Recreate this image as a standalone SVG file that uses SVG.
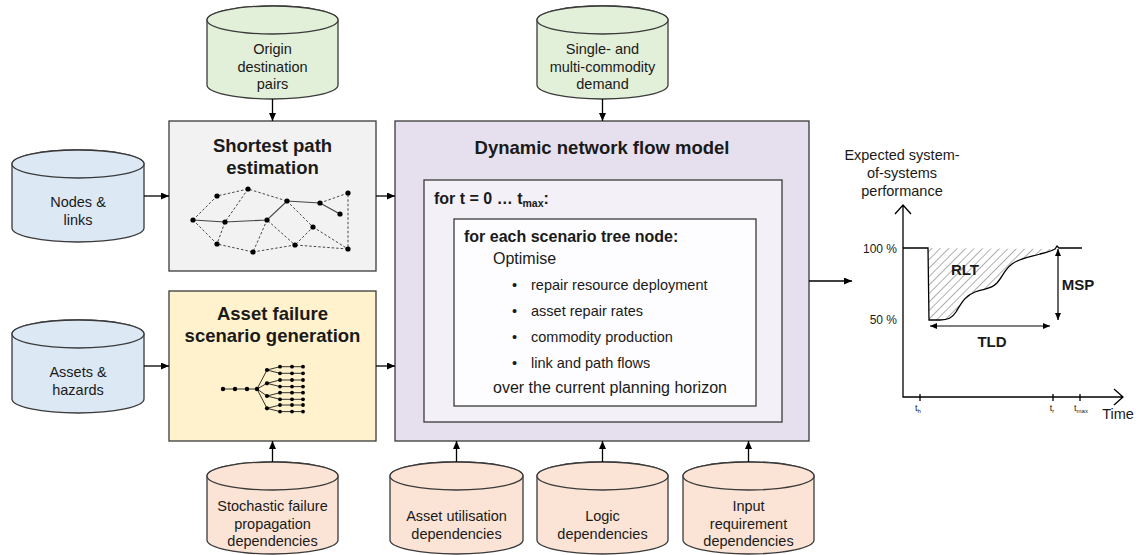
<svg xmlns="http://www.w3.org/2000/svg" width="1142" height="555" viewBox="0 0 1142 555">
<style>
text{font-family:"Liberation Sans",Arial,sans-serif;fill:#1a1a1a}
.cyl{stroke:#3a3a3a;stroke-width:1.3}
.green{fill:#e2efd9}
.blue{fill:#dde8f5}
.peach{fill:#fbe4d5}
.ct{font-size:14.5px;text-anchor:middle}
.title{font-size:18.5px;font-weight:bold;text-anchor:middle}
.box{stroke:#3a3a3a;stroke-width:1.3}
.conn{stroke:#000;stroke-width:1.3;fill:none;marker-end:url(#ah)}
.dash{stroke:#333;stroke-width:0.9;stroke-dasharray:2.5 2;fill:none}
.sol{stroke:#444;stroke-width:1.2;fill:none}
.nd{fill:#000}
.tr{stroke:#000;stroke-width:0.8;fill:none}
.ax{stroke:#000;stroke-width:1.3;fill:none}
.lbl{font-size:12px}
.blt{font-size:14.5px}
</style>
<defs>
<marker id="ah" markerWidth="8" markerHeight="7" refX="8" refY="3.5" orient="auto-start-reverse" markerUnits="userSpaceOnUse"><path d="M0,0 L8,3.5 L0,7 z" fill="#000"/></marker>
<marker id="sh" markerWidth="7" markerHeight="6" refX="7" refY="3" orient="auto-start-reverse" markerUnits="userSpaceOnUse"><path d="M0,0 L7,3 L0,6 z" fill="#000"/></marker>
<pattern id="hatch" width="6" height="6" patternUnits="userSpaceOnUse" patternTransform="rotate(45)"><line x1="0" y1="0" x2="0" y2="6" stroke="#a6a6a6" stroke-width="1.8"/></pattern>
</defs>

<g id="origin-destination">
<path class="cyl green" d="M207,20 A65.5,14 0 0,1 338,20 V85 A65.5,14 0 0,1 207,85 Z"/>
<ellipse class="cyl green" cx="272.5" cy="20" rx="65.5" ry="14"/>
<text class="ct" x="272.5" y="54">Origin</text>
<text class="ct" x="272.5" y="71.5">destination</text>
<text class="ct" x="272.5" y="89">pairs</text>
</g>

<g id="commodity-demand">
<path class="cyl green" d="M537,20 A65.5,14 0 0,1 668,20 V85 A65.5,14 0 0,1 537,85 Z"/>
<ellipse class="cyl green" cx="602.5" cy="20" rx="65.5" ry="14"/>
<text class="ct" x="602.5" y="54">Single- and</text>
<text class="ct" x="602.5" y="71.5">multi-commodity</text>
<text class="ct" x="602.5" y="89">demand</text>
</g>

<g id="nodes-links">
<path class="cyl blue" d="M12,164 A66,14 0 0,1 144,164 V228 A66,14 0 0,1 12,228 Z"/>
<ellipse class="cyl blue" cx="78" cy="164" rx="66" ry="14"/>
<text class="ct" x="78" y="207">Nodes &amp;</text>
<text class="ct" x="78" y="224.5">links</text>
</g>

<g id="assets-hazards">
<path class="cyl blue" d="M12,334 A66,14 0 0,1 144,334 V399 A66,14 0 0,1 12,399 Z"/>
<ellipse class="cyl blue" cx="78" cy="334" rx="66" ry="14"/>
<text class="ct" x="78" y="377">Assets &amp;</text>
<text class="ct" x="78" y="394.5">hazards</text>
</g>

<g id="stochastic-failure">
<path class="cyl peach" d="M207,476 A65.5,14 0 0,1 338,476 V540 A65.5,14 0 0,1 207,540 Z"/>
<ellipse class="cyl peach" cx="272.5" cy="476" rx="65.5" ry="14"/>
<text class="ct" x="272.5" y="511">Stochastic failure</text>
<text class="ct" x="272.5" y="528.5">propagation</text>
<text class="ct" x="272.5" y="546">dependencies</text>
</g>

<g id="asset-utilisation">
<path class="cyl peach" d="M390,476 A66.5,14 0 0,1 523,476 V540 A66.5,14 0 0,1 390,540 Z"/>
<ellipse class="cyl peach" cx="456.5" cy="476" rx="66.5" ry="14"/>
<text class="ct" x="456.5" y="521">Asset utilisation</text>
<text class="ct" x="456.5" y="538.5">dependencies</text>
</g>

<g id="logic">
<path class="cyl peach" d="M537,476 A65.5,14 0 0,1 668,476 V540 A65.5,14 0 0,1 537,540 Z"/>
<ellipse class="cyl peach" cx="602.5" cy="476" rx="65.5" ry="14"/>
<text class="ct" x="602.5" y="521">Logic</text>
<text class="ct" x="602.5" y="538.5">dependencies</text>
</g>

<g id="input-requirement">
<path class="cyl peach" d="M683,476 A65.5,14 0 0,1 814,476 V540 A65.5,14 0 0,1 683,540 Z"/>
<ellipse class="cyl peach" cx="748.5" cy="476" rx="65.5" ry="14"/>
<text class="ct" x="748.5" y="511">Input</text>
<text class="ct" x="748.5" y="528.5">requirement</text>
<text class="ct" x="748.5" y="546">dependencies</text>
</g>

<g id="shortest-path">
<rect class="box" x="169" y="121" width="207" height="150" fill="#f2f2f2"/>
<text class="title" x="272.5" y="152">Shortest path</text>
<text class="title" x="272.5" y="174">estimation</text>
<g>
<path class="dash" d="M193,220 L217,196 L248,189 L287,201 M248,189 L225,222 L217,244 M193,220 L217,244 L253,252 L267,220 M253,252 L295,245 L267,220 M287,201 L313,227 L295,245 L348,249 M313,227 L348,249 M320,203 L348,193 L348,249"/>
<path class="sol" d="M193,220 L225,222 L267,220 L287,201 L320,203 L340,214"/>
<g class="nd">
<circle cx="193" cy="220" r="2.6"/><circle cx="217" cy="196" r="2.6"/><circle cx="248" cy="189" r="2.6"/><circle cx="287" cy="201" r="2.6"/><circle cx="320" cy="203" r="2.6"/><circle cx="348" cy="193" r="2.6"/><circle cx="340" cy="214" r="2.6"/><circle cx="225" cy="222" r="2.6"/><circle cx="267" cy="220" r="2.6"/><circle cx="313" cy="227" r="2.6"/><circle cx="217" cy="244" r="2.6"/><circle cx="253" cy="252" r="2.6"/><circle cx="295" cy="245" r="2.6"/><circle cx="348" cy="249" r="2.6"/>
</g>
</g>
</g>

<g id="asset-failure">
<rect class="box" x="169" y="291" width="207" height="150" fill="#fff2cc"/>
<text class="title" x="272.5" y="320">Asset failure</text>
<text class="title" x="272.5" y="342">scenario generation</text>
<g>
<path class="tr" d="M223,389 H257 M257,389 L267,370 M257,389 L267,383.3 M257,389 L267,396 M257,389 L267,408.3
M267,370 L280,366.7 M267,370 L280,373.3 M267,383.3 L280,380 M267,383.3 L280,386.6 M267,396 L280,392.7 M267,396 L280,399.3 M267,408.3 L280,405 M267,408.3 L280,411.6
M280,366.7 H303 M280,373.3 H303 M280,380 H303 M280,386.6 H303 M280,392.7 H303 M280,399.3 H303 M280,405 H303 M280,411.6 H303"/>
<g class="nd">
<circle cx="223" cy="389" r="2.2"/><circle cx="235" cy="389" r="2.2"/><circle cx="247" cy="389" r="2.2"/><circle cx="257" cy="389" r="2.2"/>
<circle cx="267" cy="370" r="2.1"/><circle cx="267" cy="383.3" r="2.1"/><circle cx="267" cy="396" r="2.1"/><circle cx="267" cy="408.3" r="2.1"/>
<circle cx="280" cy="366.7" r="1.9"/><circle cx="292" cy="366.7" r="1.9"/><circle cx="303" cy="366.7" r="1.9"/>
<circle cx="280" cy="373.3" r="1.9"/><circle cx="292" cy="373.3" r="1.9"/><circle cx="303" cy="373.3" r="1.9"/>
<circle cx="280" cy="380" r="1.9"/><circle cx="292" cy="380" r="1.9"/><circle cx="303" cy="380" r="1.9"/>
<circle cx="280" cy="386.6" r="1.9"/><circle cx="292" cy="386.6" r="1.9"/><circle cx="303" cy="386.6" r="1.9"/>
<circle cx="280" cy="392.7" r="1.9"/><circle cx="292" cy="392.7" r="1.9"/><circle cx="303" cy="392.7" r="1.9"/>
<circle cx="280" cy="399.3" r="1.9"/><circle cx="292" cy="399.3" r="1.9"/><circle cx="303" cy="399.3" r="1.9"/>
<circle cx="280" cy="405" r="1.9"/><circle cx="292" cy="405" r="1.9"/><circle cx="303" cy="405" r="1.9"/>
<circle cx="280" cy="411.6" r="1.9"/><circle cx="292" cy="411.6" r="1.9"/><circle cx="303" cy="411.6" r="1.9"/>
</g>
</g>
</g>

<g id="dynamic-network-flow-model">
<rect class="box" x="395" y="121" width="414" height="320" fill="#e6e0ee"/>
<text class="title" x="602" y="154">Dynamic network flow model</text>
<rect class="box" x="424" y="180" width="358" height="242" fill="#f3f0f7"/>
<text x="434" y="204" font-size="16" font-weight="bold">for t = 0 … t<tspan font-size="10.5" dy="3">max</tspan><tspan dy="-3">:</tspan></text>
<rect class="box" x="454" y="219" width="302" height="187" fill="#fdfcfe"/>
<text x="464" y="242" font-size="16" font-weight="bold">for each scenario tree node:</text>
<text x="493" y="264" font-size="16">Optimise</text>
<text class="blt" x="512" y="290">•</text><text class="blt" x="531" y="290">repair resource deployment</text>
<text class="blt" x="512" y="316">•</text><text class="blt" x="531" y="316">asset repair rates</text>
<text class="blt" x="512" y="342">•</text><text class="blt" x="531" y="342">commodity production</text>
<text class="blt" x="512" y="368">•</text><text class="blt" x="531" y="368">link and path flows</text>
<text x="493" y="393" font-size="16">over the current planning horizon</text>
</g>

<g id="connectors">
<line class="conn" x1="272.5" y1="99" x2="272.5" y2="121"/>
<line class="conn" x1="602.5" y1="99" x2="602.5" y2="121"/>
<line class="conn" x1="144" y1="196" x2="169" y2="196"/>
<line class="conn" x1="144" y1="366" x2="169" y2="366"/>
<line class="conn" x1="376" y1="196" x2="395" y2="196"/>
<line class="conn" x1="376" y1="366" x2="395" y2="366"/>
<line class="conn" x1="272.5" y1="462" x2="272.5" y2="441"/>
<line class="conn" x1="456.5" y1="462" x2="456.5" y2="441"/>
<line class="conn" x1="602.5" y1="462" x2="602.5" y2="441"/>
<line class="conn" x1="748.5" y1="462" x2="748.5" y2="441"/>
<line class="conn" x1="809" y1="281" x2="852" y2="281"/>
</g>

<g id="performance-chart">
<text class="ct" x="902" y="160">Expected system-</text>
<text class="ct" x="902" y="178">of-systems</text>
<text class="ct" x="902" y="196">performance</text>
<path class="ax" d="M903,205 V397 H1123 M895,214 L903,205 L911,214 M1114,389 L1123,397 L1114,405"/>
<path class="ax" d="M920,394 V401 M1053,394 V401 M1080,394 V401"/>
<text class="lbl" x="897" y="253" text-anchor="end">100 %</text>
<text class="lbl" x="897" y="324" text-anchor="end">50 %</text>
<path d="M928,248 L929,320 H940 C948,320 952,318 956,312 C962,302 965,296 975,292 C985,288 990,290 997,283 C1003,276 1004,270 1012,264 C1020,258 1030,257 1040,254 C1048,252 1052,251 1055,249 Z" fill="url(#hatch)"/>
<path class="ax" d="M903,248 H928 L929,320 H940 C948,320 952,318 956,312 C962,302 965,296 975,292 C985,288 990,290 997,283 C1003,276 1004,270 1012,264 C1020,258 1030,257 1040,254 C1048,252 1052,251 1055,249 L1057,246 L1059,248 H1082"/>
<text x="965" y="275" font-size="15" font-weight="bold" text-anchor="middle">RLT</text>
<line x1="1058" y1="249" x2="1058" y2="320" stroke="#000" stroke-width="1.2" marker-start="url(#sh)" marker-end="url(#sh)"/>
<text x="1078" y="290" font-size="15" font-weight="bold" text-anchor="middle">MSP</text>
<line x1="930" y1="326" x2="1050" y2="326" stroke="#000" stroke-width="1.2" marker-start="url(#sh)" marker-end="url(#sh)"/>
<text x="992" y="347" font-size="15" font-weight="bold" text-anchor="middle">TLD</text>
<text x="918" y="411" font-size="9" text-anchor="middle">t<tspan font-size="6" dy="2">h</tspan></text>
<text x="1052" y="411" font-size="9" text-anchor="middle">t<tspan font-size="6" dy="2">r</tspan></text>
<text x="1081" y="411" font-size="9" text-anchor="middle">t<tspan font-size="6" dy="2">max</tspan></text>
<text x="1118" y="419" font-size="14.5" text-anchor="middle">Time</text>
</g>
</svg>
